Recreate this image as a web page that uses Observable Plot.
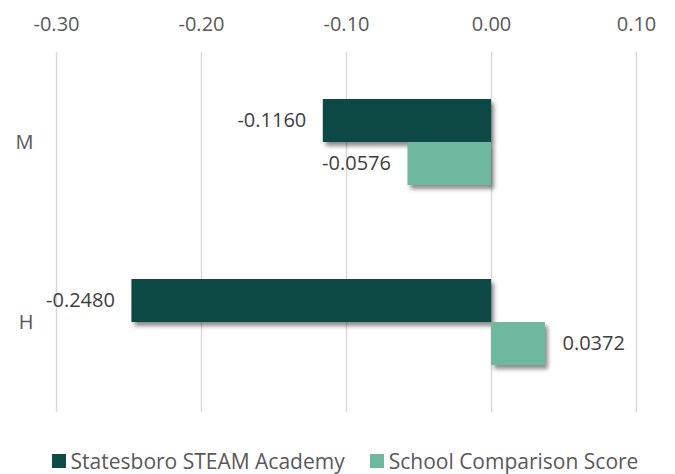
<!DOCTYPE html>
<html><head><meta charset="utf-8">
<script src="https://cdn.jsdelivr.net/npm/d3@7"></script>
<script src="https://cdn.jsdelivr.net/npm/@observablehq/plot@0.6"></script>
<style>
body{margin:0;background:#fff;font-family:"Open Sans",sans-serif;overflow:hidden;}
#chart svg{display:block;}
#legend{display:flex;justify-content:center;align-items:center;gap:25px;padding-left:15px;margin-top:12px;height:26px;line-height:26px;font-size:21px;color:#595959;}
#legend .item{display:flex;align-items:center;gap:5px;}
#legend .sw{width:14px;height:14px;display:inline-block;}
</style>
</head><body><div id="chart"></div><div id="legend"></div>
<script>
const categories = ["M", "H"];
const seriesNames = ["Statesboro STEAM Academy", "School Comparison Score"];
const academyValues = [-0.1160, -0.2480];
const comparisonValues = [-0.0576, 0.0372];
const xTicks = [-0.3, -0.2, -0.1, 0, 0.1];
const colors = ["#0f4a45", "#6db89e"];

const data = categories.flatMap((c, i) => [
  {category: c, series: seriesNames[0], value: academyValues[i]},
  {category: c, series: seriesNames[1], value: comparisonValues[i]}
]);

const plot = Plot.plot({
  width: 675, height: 436,
  marginTop: 52, marginBottom: 24, marginLeft: 56, marginRight: 39,
  style: {fontFamily: '"Open Sans", sans-serif', fontSize: "20px", color: "#595959", background: "#fff"},
  x: {domain: [-0.3, 0.1], axis: "top", ticks: xTicks, tickFormat: d => d.toFixed(2), tickSize: 0, tickPadding: 22, label: null},
  fy: {domain: categories, padding: 0, axis: "left", label: null, tickSize: 0, tickPadding: 23},
  y: {domain: seriesNames, axis: null, paddingInner: 0, paddingOuter: 1.07},
  color: {domain: seriesNames, range: colors},
  marks: [
    Plot.ruleX(xTicks, {stroke: "#d9d9d9", strokeWidth: 1.5}),
    Plot.barX(data, {fy: "category", y: "series", x: "value", fill: "series"}),
    Plot.text(data.filter(d => d.value < 0), {fy: "category", y: "series", x: "value", text: d => d.value.toFixed(4), textAnchor: "end", dx: -17, fill: "#404040"}),
    Plot.text(data.filter(d => d.value >= 0), {fy: "category", y: "series", x: "value", text: d => d.value.toFixed(4), textAnchor: "start", dx: 17, fill: "#404040"})
  ]
});
document.getElementById("chart").appendChild(plot);

// drop shadow on bars
const svg = d3.select(plot.tagName === "svg" ? plot : plot.querySelector("svg"));
const defs = svg.insert("defs", ":first-child");
defs.append("filter").attr("id", "shadow").attr("x", "-20%").attr("y", "-20%").attr("width", "150%").attr("height", "160%")
  .append("feDropShadow").attr("dx", 3).attr("dy", 4).attr("stdDeviation", 2.2)
  .attr("flood-color", "#000").attr("flood-opacity", 0.45);
svg.selectAll('g[aria-label="bar"] rect').attr("filter", "url(#shadow)");

const legend = d3.select("#legend");
seriesNames.forEach((s, i) => {
  const it = legend.append("div").attr("class", "item");
  it.append("span").attr("class", "sw").style("background", colors[i]);
  it.append("span").text(s);
});
</script>
</body></html>
